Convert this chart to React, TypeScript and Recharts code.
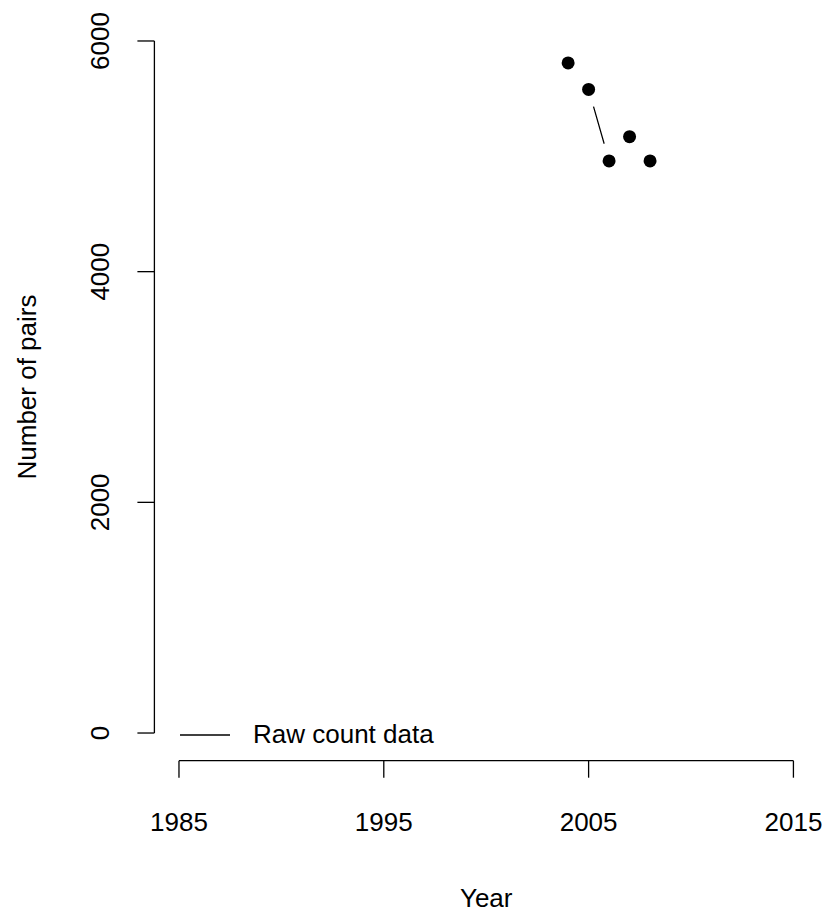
import { Label, Legend, Line, LineChart, ReferenceLine, XAxis, YAxis } from 'recharts'

// breeding counts
const years = [2004, 2005, 2006, 2007, 2008]
const pairs = [5810, 5580, 4960, 5170, 4960]

const xTicks = [1985, 1995, 2005, 2015]
const yTicks = [0, 2000, 4000, 6000]

// R pads the axis range by 4% on each side
const xDomain = [1983.8, 2016.2]
const yDomain = [-240, 6240]

const data = years.map((year, i) => ({ year, pairs: pairs[i] }))

const FONT = "'Liberation Sans', Arial, sans-serif"
const FS = 26

function XTick({ x, y, payload }: any) {
  return (
    <text x={x} y={y} textAnchor="middle" fontFamily={FONT} fontSize={FS} fill="#000">
      {payload.value}
    </text>
  )
}

function YTick({ x, y, payload }: any) {
  return (
    <text
      x={x}
      y={y}
      transform={`rotate(-90, ${x}, ${y})`}
      textAnchor="middle"
      fontFamily={FONT}
      fontSize={FS}
      fill="#000"
    >
      {payload.value}
    </text>
  )
}

function YTitle({ viewBox }: any) {
  const x = viewBox.x + 36
  const y = viewBox.y + viewBox.height / 2
  return (
    <text
      x={x}
      y={y}
      transform={`rotate(-90, ${x}, ${y})`}
      textAnchor="middle"
      fontFamily={FONT}
      fontSize={FS}
      fill="#000"
    >
      Number of pairs
    </text>
  )
}

// white disc under each point so the joining line stops short (type = "b")
function Gap({ cx, cy }: any) {
  return <circle cx={cx} cy={cy} r={18} fill="#fff" />
}

function Point({ cx, cy }: any) {
  return <circle cx={cx} cy={cy} r={6.5} fill="#000" />
}

function LegendBox({ payload }: any) {
  const item = payload && payload[0]
  if (!item) return null
  return (
    <div style={{ display: 'flex', alignItems: 'center', fontFamily: FONT, fontSize: FS, color: '#000' }}>
      <svg width={50} height={4}>
        <line x1={0} x2={50} y1={2} y2={2} stroke="#000" strokeWidth={1.3} />
      </svg>
      <span style={{ marginLeft: 23, whiteSpace: 'nowrap' }}>{item.value}</span>
    </div>
  )
}

export default function App() {
  return (
    <div style={{ position: 'absolute', left: 0, top: 0, background: '#fff' }}>
      <LineChart width={827} height={914} data={data} margin={{ top: 13.3, right: 9, bottom: 0, left: 0 }}>
        <XAxis
          dataKey="year"
          type="number"
          domain={xDomain}
          ticks={xTicks}
          allowDataOverflow
          axisLine={false}
          tickLine={{ stroke: '#000', strokeWidth: 1.3 }}
          tickSize={17}
          tickMargin={53}
          height={153.3}
          tick={<XTick />}
        >
          <Label value="Year" position="insideBottom" offset={7} fontFamily={FONT} fontSize={FS} fill="#000" />
        </XAxis>
        <YAxis
          type="number"
          domain={yDomain}
          ticks={yTicks}
          allowDataOverflow
          axisLine={false}
          tickLine={{ stroke: '#000', strokeWidth: 1.3 }}
          tickSize={17}
          tickMargin={28}
          width={154.4}
          tick={<YTick />}
        >
          <Label content={<YTitle />} />
        </YAxis>
        <ReferenceLine
          segment={[{ x: xTicks[0], y: yDomain[0] }, { x: xTicks[xTicks.length - 1], y: yDomain[0] }]}
          stroke="#000"
          strokeWidth={1.3}
          ifOverflow="visible"
        />
        <ReferenceLine
          segment={[{ x: xDomain[0], y: yTicks[0] }, { x: xDomain[0], y: yTicks[yTicks.length - 1] }]}
          stroke="#000"
          strokeWidth={1.3}
          ifOverflow="visible"
        />
        <Line
          dataKey="pairs"
          name="Raw count data"
          stroke="#000"
          strokeWidth={1.3}
          dot={<Gap />}
          activeDot={false}
          isAnimationActive={false}
        />
        <Line
          dataKey="pairs"
          stroke="none"
          dot={<Point />}
          activeDot={false}
          legendType="none"
          isAnimationActive={false}
        />
        <Legend
          layout="horizontal"
          align="center"
          verticalAlign="middle"
          content={<LegendBox />}
          wrapperStyle={{ left: 180, top: 719, width: 'auto' }}
        />
      </LineChart>
    </div>
  )
}
